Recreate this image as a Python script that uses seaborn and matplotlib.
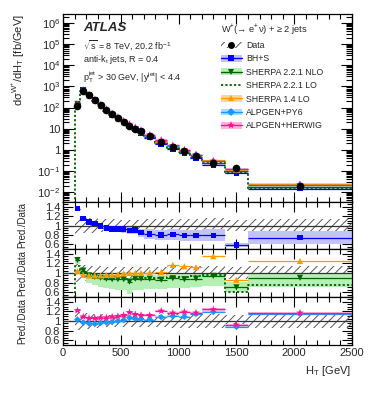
import numpy as np
import pandas as pd
import matplotlib
matplotlib.use("Agg")
import matplotlib.pyplot as plt
import seaborn as sns
from matplotlib.patches import Patch
from matplotlib.lines import Line2D
from matplotlib.ticker import MultipleLocator, LogLocator, FixedLocator, FixedFormatter, NullFormatter

# ---------------- data ----------------
edges = [100, 150, 200, 250, 300, 350, 400, 450, 500, 550, 600, 650, 700,
         800, 900, 1000, 1100, 1200, 1400, 1600, 2500]
data = [117, 620, 390, 225, 126, 78, 49, 32, 21, 14, 10.2, 7.4, 4.6,
        2.4, 1.38, 0.85, 0.51, 0.24, 0.135, 0.0195]
data_err = [0.18, 0.17, 0.16, 0.15, 0.14, 0.13, 0.13, 0.12, 0.12, 0.12,
            0.12, 0.12, 0.13, 0.13, 0.14, 0.14, 0.14, 0.15, 0.12, 0.14]

bhs = [1.36, 1.15, 1.08, 1.04, 0.99, 0.95, 0.93, 0.93, 0.92, 0.89,
       0.90, 0.85, 0.82, 0.80, 0.81, 0.79, 0.79, 0.79, 0.59, 0.74]
bhs_err = [0.04, 0.04, 0.05, 0.05, 0.06, 0.06, 0.07, 0.07, 0.08, 0.08,
           0.09, 0.10, 0.12, 0.13, 0.14, 0.15, 0.15, 0.16, 0.08, 0.18]

nlo = [1.27, 1.05, 0.95, 0.92, 0.90, 0.88, 0.87, 0.87, 0.87, 0.82,
       0.88, 0.88, 0.88, 0.86, 0.89, 0.87, 0.88, 0.94, 0.70, 0.90]
nlo_hi = [1.32, 1.08, 0.97, 0.95, 0.94, 0.93, 0.92, 0.92, 0.92, 0.90,
          0.93, 0.94, 0.95, 0.96, 0.97, 0.98, 0.99, 1.00, 0.82, 0.99]
nlo_lo = [1.18, 0.95, 0.80, 0.74, 0.70, 0.68, 0.66, 0.65, 0.64, 0.57,
          0.64, 0.65, 0.66, 0.67, 0.68, 0.68, 0.70, 0.72, 0.60, 0.70]

lo = [1.15, 1.00, 0.93, 0.90, 0.89, 0.88, 0.87, 0.87, 0.87, 0.86,
      0.87, 0.88, 0.90, 0.90, 0.92, 0.92, 0.93, 0.96, 0.60, 0.74]

sh14 = [1.04, 0.96, 0.95, 0.95, 0.95, 0.96, 0.96, 0.97, 0.99, 1.00,
        1.00, 1.00, 1.01, 1.02, 1.17, 1.14, 1.12, 1.35, 0.86, 1.25]
sh14_err = [0.02] * 20

py6 = [1.03, 0.97, 0.95, 0.94, 0.96, 0.97, 0.98, 1.00, 1.02, 1.07,
       1.05, 1.04, 1.03, 1.08, 1.10, 1.09, 1.15, 1.19, 0.88, 1.15]
py6_err = [0.02] * 20

hw = [1.22, 1.09, 1.06, 1.06, 1.07, 1.07, 1.09, 1.10, 1.12, 1.18,
      1.14, 1.12, 1.12, 1.21, 1.17, 1.19, 1.17, 1.24, 0.92, 1.17]
hw_err = [0.02] * 20

labels = ["Data", "BH+S", "SHERPA 2.2.1 NLO", "SHERPA 2.2.1 LO",
          "SHERPA 1.4 LO", "ALPGEN+PY6", "ALPGEN+HERWIG"]

# ---------------- style ----------------
sns.set_theme(style="ticks")
plt.rcParams["font.family"] = ["Liberation Sans", "DejaVu Sans"]
plt.rcParams["mathtext.fontset"] = "custom"
plt.rcParams["mathtext.rm"] = "Liberation Sans"
plt.rcParams["mathtext.it"] = "Liberation Sans:italic"
plt.rcParams["mathtext.bf"] = "Liberation Sans:bold"
plt.rcParams["mathtext.default"] = "regular"
plt.rcParams["hatch.linewidth"] = 0.7
plt.rcParams["axes.linewidth"] = 0.9

E = np.array(edges, float)
C = 0.5 * (E[:-1] + E[1:])
D = np.array(data)

col = {"BH+S": "#0000ff", "SHERPA 2.2.1 NLO": "#006400", "SHERPA 2.2.1 LO": "#005a00",
       "SHERPA 1.4 LO": "#ff9a00", "ALPGEN+PY6": "#1e96ff", "ALPGEN+HERWIG": "#ff1493"}
band = {"BH+S": "#c3c3f7", "SHERPA 2.2.1 NLO": "#b4f0b4", "SHERPA 1.4 LO": "#ffd59a",
        "ALPGEN+PY6": "#a8dcff", "ALPGEN+HERWIG": "#ffb4dc"}
mk = {"BH+S": "s", "SHERPA 2.2.1 NLO": "v", "SHERPA 1.4 LO": "^",
      "ALPGEN+PY6": "D", "ALPGEN+HERWIG": "*"}
msz = {"BH+S": 16, "SHERPA 2.2.1 NLO": 20, "SHERPA 1.4 LO": 20,
       "ALPGEN+PY6": 12, "ALPGEN+HERWIG": 34}
hatch_col = "#555555"

fig = plt.figure(figsize=(3.74, 3.96), dpi=100)
L, W = 63 / 374, 289 / 374
def fr(y0, y1):
    return [L, 1 - y1 / 396, W, (y1 - y0) / 396]
ax0 = fig.add_axes(fr(14, 202))
ax1 = fig.add_axes(fr(202, 249))
ax2 = fig.add_axes(fr(249, 297))
ax3 = fig.add_axes(fr(297, 345))

def ext(a):
    a = np.asarray(a, float)
    return np.r_[a, a[-1]]

def draw_model(ax, name, vals, lo_, hi_):
    vals = np.asarray(vals, float)
    if lo_ is not None:
        ax.fill_between(E, ext(lo_), ext(hi_), step="post", color=band[name], lw=0, zorder=2)
    ax.hlines(vals, E[:-1], E[1:], color=col[name], lw=0.9, zorder=4)
    df = pd.DataFrame({"x": C, "y": vals, "m": name})
    sns.scatterplot(data=df, x="x", y="y", hue="m", palette={name: col[name]},
                    marker=mk[name], s=msz[name], linewidth=0, legend=False,
                    ax=ax, zorder=5)

def draw_lo(ax, vals, bottom):
    xs = np.r_[E[0], E]
    ys = np.r_[bottom, np.asarray(vals, float), vals[-1]]
    ax.step(xs, ys, where="post", color=col["SHERPA 2.2.1 LO"], ls=(0, (1.2, 1.2)),
            lw=1.3, zorder=3)

def hatch_band(ax, lo_, hi_):
    ax.fill_between(E, ext(lo_), ext(hi_), step="post", facecolor="none",
                    edgecolor=hatch_col, hatch="////", lw=0, zorder=1)

de = np.array(data_err)
rel = lambda r, e: (np.array(r) * (1 - np.array(e)), np.array(r) * (1 + np.array(e)))

# -------- main panel --------
ax0.set_yscale("log")
for name, r in [("BH+S", bhs), ("SHERPA 2.2.1 NLO", nlo), ("SHERPA 1.4 LO", sh14),
                ("ALPGEN+PY6", py6), ("ALPGEN+HERWIG", hw)]:
    v = np.array(r) * D
    draw_model(ax0, name, v, v * 0.93, v * 1.07)
draw_lo(ax0, np.array(lo) * D, 1e-4)
dfd = pd.DataFrame({"x": C, "y": D})
sns.scatterplot(data=dfd, x="x", y="y", color="black", marker="o", s=30,
                linewidth=0, legend=False, ax=ax0, zorder=6)
ax0.set_ylim(10 ** -2.47, 10 ** 6.43)
ax0.yaxis.set_major_locator(FixedLocator([10.0 ** k for k in range(-2, 7)]))
ax0.yaxis.set_major_formatter(FixedFormatter(
    [r"$10^{-2}$", r"$10^{-1}$", "1", "10", r"$10^{2}$", r"$10^{3}$",
     r"$10^{4}$", r"$10^{5}$", r"$10^{6}$"]))
ax0.yaxis.set_minor_locator(LogLocator(base=10, subs=np.arange(2, 10), numticks=100))
ax0.yaxis.set_minor_formatter(NullFormatter())

# -------- ratio panels --------
ratio_axes = [ax1, ax2, ax3]
for ax in ratio_axes:
    hatch_band(ax, 1 - de, 1 + de)
    ax.axhline(1, color="#333333", lw=0.9, zorder=3)

l_, h_ = rel(bhs, bhs_err)
draw_model(ax1, "BH+S", bhs, l_, h_)

draw_model(ax2, "SHERPA 2.2.1 NLO", nlo, nlo_lo, nlo_hi)
draw_lo(ax2, lo, 0.4)
draw_model(ax2, "SHERPA 1.4 LO", sh14, None, None)

l_, h_ = rel(py6, py6_err)
draw_model(ax3, "ALPGEN+PY6", py6, l_, h_)
l_, h_ = rel(hw, hw_err)
draw_model(ax3, "ALPGEN+HERWIG", hw, l_, h_)

for ax in ratio_axes:
    ax.set_ylim(0.5, 1.5)
    ax.yaxis.set_major_locator(FixedLocator([0.6, 0.8, 1.0, 1.2, 1.4]))
    ax.yaxis.set_major_formatter(FixedFormatter(["0.6", "0.8", "1", "1.2", "1.4"]))
    ax.yaxis.set_minor_locator(MultipleLocator(0.05))
    ax.set_ylabel("Pred./Data", fontsize=6.9)
    ax.yaxis.set_label_coords(-0.125, 0.5)

for ax in [ax0, ax1, ax2, ax3]:
    ax.set_xlim(0, 2500)
    ax.xaxis.set_major_locator(MultipleLocator(500))
    ax.xaxis.set_minor_locator(MultipleLocator(100))
    ax.tick_params(which="both", direction="in", top=True, right=True,
                   labelsize=8, pad=2, width=0.8, color="black")
    ax.tick_params(which="major", length=7)
    ax.tick_params(which="minor", length=3.5)
    ax.set_xlabel("")
    if ax is not ax3:
        ax.tick_params(labelbottom=False)
    for s in ax.spines.values():
        s.set_color("black")
ax0.tick_params(which="major", axis="y", length=8)
ax0.tick_params(which="minor", axis="y", length=4)

ax0.set_ylabel(r"d$\sigma^{W^{+}}$/dH$_{T}$ [fb/GeV]", fontsize=8, ha="right")
ax0.yaxis.set_label_coords(-0.125, 1.0)
fig.text(351 / 374, 1 - 371 / 396, r"H$_{T}$ [GeV]", ha="right", va="center", fontsize=8)

# -------- text --------
ax0.text(0.07, 0.925, "ATLAS", transform=ax0.transAxes, fontsize=9.5,
         fontweight="bold", fontstyle="italic", va="center")
ax0.text(0.07, 0.835, r"$\sqrt{s}$ = 8 TeV, 20.2 fb$^{-1}$", transform=ax0.transAxes,
         fontsize=6.5, va="center")
ax0.text(0.07, 0.76, r"anti-k$_{t}$ jets, R = 0.4", transform=ax0.transAxes,
         fontsize=6.5, va="center")
ax0.text(0.07, 0.665, r"p$_{T}^{jet}$ > 30 GeV, |y$^{jet}$| < 4.4", transform=ax0.transAxes,
         fontsize=6.5, va="center")

# -------- legend --------
def entry(name):
    return (Patch(facecolor=band[name], lw=0),
            Line2D([], [], color=col[name], marker=mk[name], ms=4 if name != "ALPGEN+HERWIG" else 6,
                   lw=1, mew=0))
handles = [
    (Patch(facecolor="white", edgecolor=hatch_col, hatch="////", lw=0),
     Line2D([], [], color="black", marker="o", ls="none", ms=5, mew=0)),
    entry("BH+S"), entry("SHERPA 2.2.1 NLO"),
    Line2D([], [], color=col["SHERPA 2.2.1 LO"], ls=(0, (1.2, 1.2)), lw=1.3),
    entry("SHERPA 1.4 LO"), entry("ALPGEN+PY6"), entry("ALPGEN+HERWIG"),
]
leg = ax0.legend(handles, labels, title=r"W$^{+}$(→ e$^{+}$ν) + ≥ 2 jets",
                 loc="upper left", bbox_to_anchor=(0.53, 0.985), frameon=False,
                 fontsize=6.3, title_fontsize=6.7, handlelength=2.3, handleheight=0.8,
                 labelspacing=0.5, handletextpad=0.5, borderaxespad=0.2,
                 alignment="left")

fig.savefig("out.png", dpi=100)
